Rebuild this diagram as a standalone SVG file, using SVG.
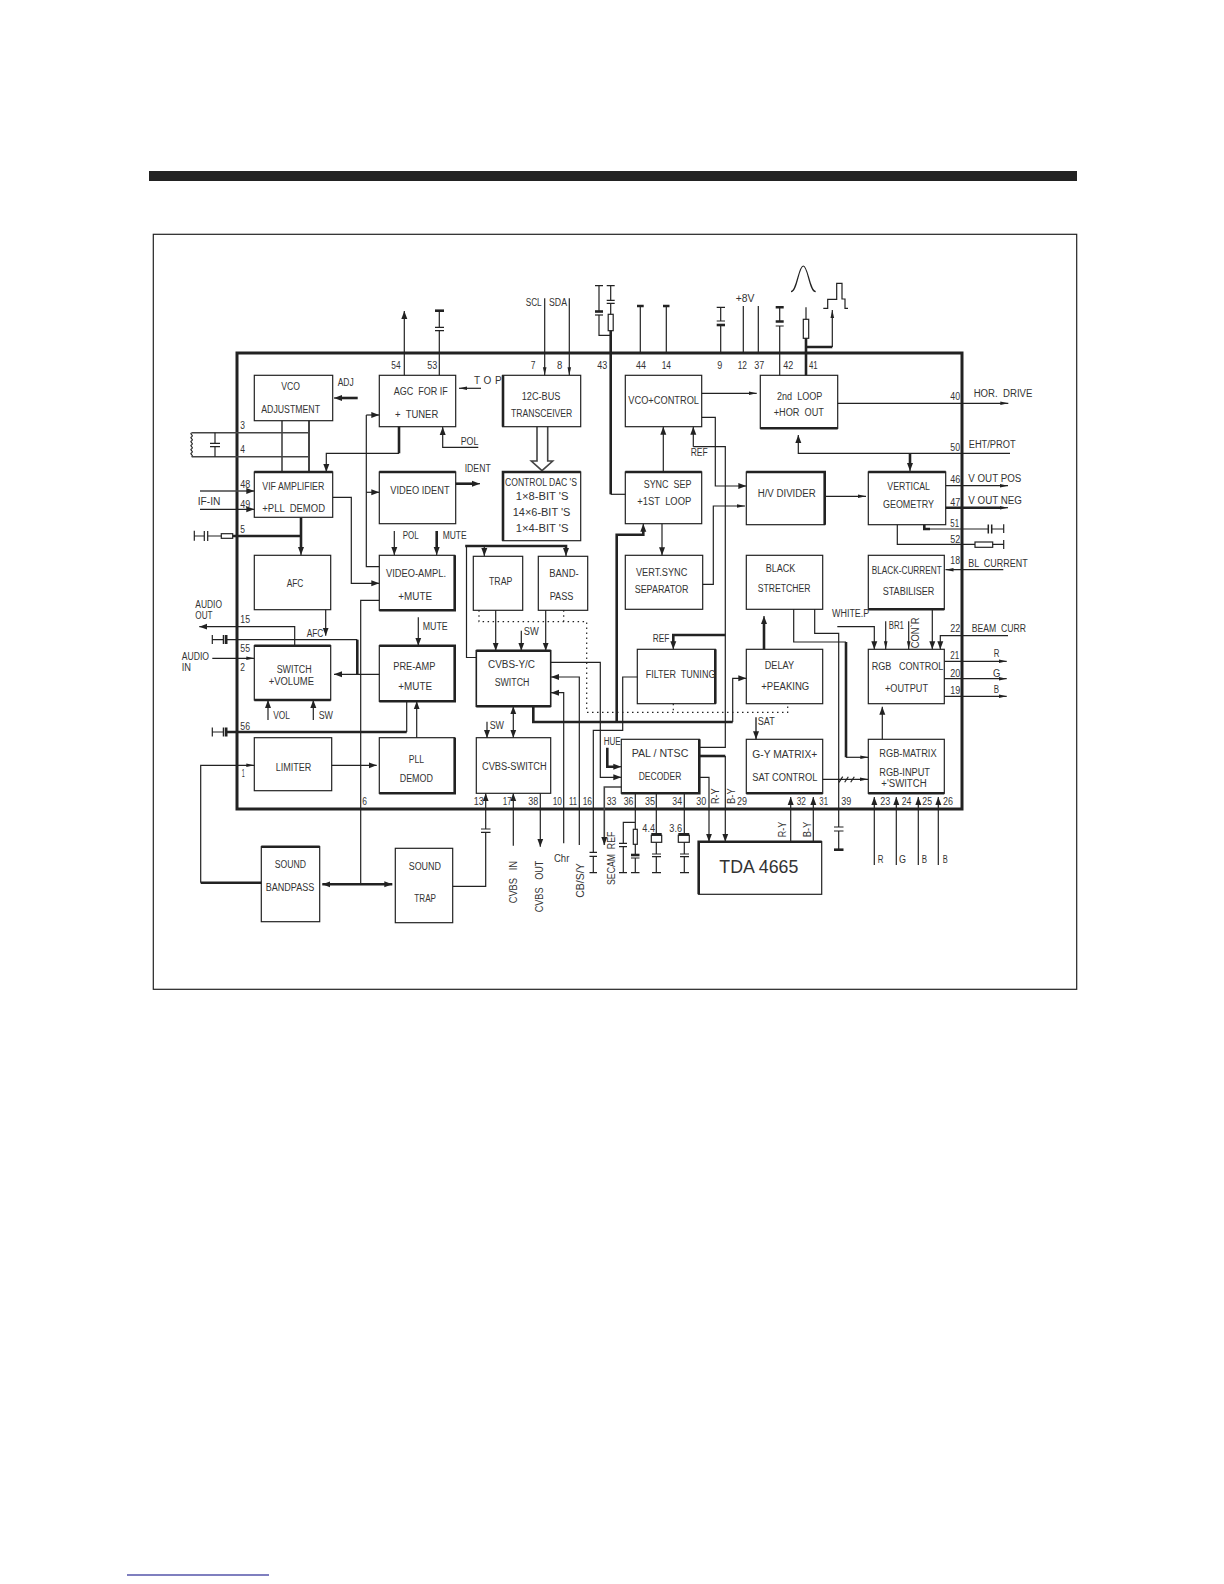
<svg xmlns="http://www.w3.org/2000/svg" width="1224" height="1584" viewBox="0 0 1224 1584">
<style>
rect,path,polyline{fill:none;stroke:#222;stroke-width:1.2}
.T{stroke-width:2.6}
.g{stroke:#444;stroke-width:1.6}
.d{stroke-dasharray:1.5 3.5;stroke-width:1.2}
.r{marker-end:url(#a)}
.R{marker-end:url(#A)}
.b{marker-start:url(#A2);marker-end:url(#A)}
text{font-family:"Liberation Sans",Arial,sans-serif;font-size:10px;fill:#333;white-space:pre}
</style>
<defs>
<marker id="a" markerUnits="userSpaceOnUse" markerWidth="9" markerHeight="6" refX="8" refY="3" orient="auto"><path d="M0,1.2 L8,3 L0,4.8 Z" style="fill:#222;stroke:none"/></marker>
<marker id="A" markerUnits="userSpaceOnUse" markerWidth="9" markerHeight="8" refX="8" refY="4" orient="auto"><path d="M0,1 L8,4 L0,7 Z" style="fill:#222;stroke:none"/></marker>
<marker id="A2" markerUnits="userSpaceOnUse" markerWidth="9" markerHeight="8" refX="8" refY="4" orient="auto-start-reverse"><path d="M0,1 L8,4 L0,7 Z" style="fill:#222;stroke:none"/></marker>
</defs>
<rect width="1224" height="1584" style="fill:#fff;stroke:none"/>
<rect x="149" y="171" width="928" height="10" style="fill:#222;stroke:none"/>
<rect x="153.3" y="234.3" width="923.4" height="755" style="stroke-width:1.2"/>
<rect x="237" y="353" width="725" height="456" style="stroke-width:3"/>
<path d="M127,1575H269" style="stroke:#000080;stroke-width:1.2"/>

<g id="connectors">
<path class="R" d="M404.3,375.3V311"/>
<path d="M439.3,375.3V330.7M435,330.7H444M435,327.3H444M439.3,327.3V310.7"/><path class="T" d="M435,310.7H444"/>
<path class="r" d="M544.7,298.3V375.3"/><path class="r" d="M569.3,298.3V375.3"/>
<path d="M599,285.7V311M595,285.7H603M599,315V335.3H610.7"/><path class="T" d="M595,311.5H603"/><path d="M595,315H603"/>
<path d="M610.7,285.7V300.3M606.7,285.7H614.7M606.7,300.3H614.7M606.7,303.3H614.7M610.7,303.3V314.3"/>
<rect x="608.2" y="314.3" width="5" height="16.4"/>
<path class="T" d="M610.7,330.7V494.3"/><path d="M610.7,494.3H625.3"/>
<path d="M640.3,353V306M666.3,353V306"/><path class="T" d="M637,306H643.7M663,306H669.5"/>
<path d="M720.7,353V325M716.7,307.3H725M720.7,307.3V321M716.7,321H725"/><path class="T" d="M716.7,325H725"/>
<path d="M743.3,353V306M758.3,353V306"/>
<path d="M779.7,375.3V326M775.7,326H783.7M779.7,321V307.3"/><path class="T" d="M775.7,321.5H783.7M775.7,307.3H783.7"/>
<path class="T" d="M806,375.3V338.3M806,347H832.3"/><path class="r" d="M832.3,347V310"/>
<rect x="803.3" y="319.3" width="5.4" height="19"/><path d="M806,319.3V307.3"/>
<path d="M791,291.7C797,291.7 798.5,266 803.3,266C808,266 809.5,291.7 815.7,291.7"/>
<path d="M823.3,308.3H827.7V299.3H836.7V283.3H842V299H845V308.3H848"/>
<path class="T" d="M357.7,398H342"/><path class="R" d="M345,398H334"/>
<path class="r" d="M481,388.3H459"/>
<path class="R" d="M478.3,447.3H442.7V427"/>
<path d="M191.7,432.7 C189,434 194,435 191.7,436.7 C189,438 194,439 191.7,440.7 C189,442 194,443 191.7,444.7 C189,446 194,447 191.7,448.7 C189,450 194,451 191.7,452.7 C189,454 194,455 191.7,456.7"/>
<path class="g" d="M191.7,432.7H309M191.7,456.7H309M282,420.7V472"/><path class="g" style="stroke-width:2" d="M309,420.7V472"/>
<path d="M215,432.7V443.3M210,443.3H220M210,446.7H220M215,446.7V456.7"/>
<path class="T" d="M399,426.7V453.3"/><path class="R" d="M399,453.3H326.3V472"/>
<path d="M379.3,566.7H366.3V415"/><path class="R" d="M366.3,415H379.3"/><path class="R" d="M366.3,492.3H379.3"/>
<path class="R" d="M332.7,497.3H351.3V583.3H379.3"/>
<path class="T" d="M455.7,483.7H473"/><path class="R" d="M470,483.7H480"/>
<path class="g R" d="M200,491H254.3"/><path class="R" d="M200,509.3H254.3"/>
<path d="M194.3,530.7V540.7M194.3,536H204.3M204.3,531V541M207.7,531V541M207.7,536H221.3"/>
<rect x="221.3" y="533.7" width="11.4" height="4.6"/>
<path class="T" d="M232.7,536H301M301,517.3V548"/><path class="R" d="M301,545V555"/>
<path class="R" d="M394.3,531V555"/><path class="T" d="M436.7,531V548"/><path class="R" d="M436.7,545V555"/>
<path class="g" style="fill:#fff" d="M537,426.7V461H531.3L542,470.7L552.7,461H547.7V426.7"/>
<path class="T" d="M465.2,546H566V549"/><path class="R" d="M566,547V556"/><path class="R" d="M484.3,546V556"/>
<path d="M466.5,546V657.5H476.3"/>
<path class="d" d="M479,610.3V621.7H586.7V712.3H787.7V703.7M563.7,610.3V621.7M673.3,703.7V712.3"/>
<path class="R" d="M495.7,610.3V650.7"/><path class="R" d="M545.7,610.3V650.7"/><path class="R" d="M521.3,630.7V650.7"/>
<path class="R" d="M550.7,662.3H600.3V777.3H621.3"/>
<path class="R" d="M579.3,845V677H551"/><path class="R" d="M563.7,843.3V692.7H551"/>
<path class="T" d="M533.3,706.3V722H732.7"/><path class="R" d="M732.7,722V678.3H746.3"/>
<path class="T" d="M616.7,722V534.7H643.3V528"/><path class="R" d="M643.3,530V523.7"/>
<path d="M637.3,677H622.7V730.3H593.3V852.3M589.5,852.3H597M589.5,856.3H597M593.3,856.3V872.7M589.5,872.7H597"/>
<path class="T" d="M607.3,747.7V766.7H616"/><path class="R" d="M612,766.7H621.3"/>
<path class="g R" d="M621.3,787H604.3V845"/>
<path d="M699.3,747.3H725.3V446.7H693.3"/><path class="R" d="M693.3,446.7V426.7"/>
<path class="T" d="M725.3,635H673.3V642"/><path class="R" d="M673.3,640V649.3"/>
<path class="T" d="M699.3,756H725.3"/><path class="R" d="M725.3,756V841.7"/>
<path class="R" d="M699.3,777.3H709V841.7"/>
<path d="M635.3,793.3V829.3M635.3,844.3V855M635.3,858V872.7M631,872.7H639.5M635.3,822.3H623.3V843.3M619,843.3H627M619,846.7H627M623.3,846.7V872.7M619,872.7H627M631,858H639.5"/>
<rect x="633.3" y="829.3" width="4" height="15"/><path class="T" d="M631,855H639.5"/>
<path d="M656.3,793.3V834.3M656.3,842.3V854M652,854H661M652,856.7H661M656.3,856.7V872.7M652,872.7H661"/>
<rect x="651.3" y="835.3" width="10.4" height="7"/><path class="T" d="M651.3,834.3H661.7"/>
<path d="M684.3,793.3V834.3M684.3,842.3V854M680,854H689M680,856.7H689M684.3,856.7V872.7M680,872.7H689"/>
<rect x="678.3" y="835.3" width="11" height="7"/><path class="T" d="M678.3,834.3H689.3"/>
<path class="R" d="M790.7,841.7V797"/><path class="R" d="M813.3,841.7V797"/>
<path d="M814.7,609.3V633.3H838.7V827M834,827H843.5M834,831H843.5M838.7,831V849.7"/><path class="T" d="M834,849.7H843.5"/>
<path d="M793.7,609.3V642H846"/><path class="T" d="M846,642V757.3"/><path class="r" d="M846,757.3H868.3"/>
<path class="R" d="M837.3,626.7H874.3V649.3"/>
<path class="r" d="M885.7,621.3V649.3"/><path class="r" d="M908.7,621.3V649.3"/><path class="R" d="M932.3,609.3V649.3"/>
<path class="R" d="M1008,635.7H940.3V649.3"/>
<path class="r" d="M944.3,661.3H1006.7"/><path class="r" d="M944.3,678.7H1006.7"/><path class="r" d="M944.3,696.3H1006.7"/>
<path class="R" d="M882.3,739.3V706.7"/>
<path class="R" d="M874.3,865V797"/><path class="R" d="M896.3,865V797"/><path class="R" d="M918.3,865V797"/><path class="R" d="M938.3,865V797"/>
<path class="g R" d="M756,717.3V739.3"/>
<path class="T" d="M764,649.3V622"/><path class="R" d="M764,625V616"/>
<path class="r" d="M822.7,779.3H868"/><path d="M839,782.3L842.7,776.7M844.7,782.3L848.3,776.7M850.7,782.3L854.3,776.7"/>
<path class="r" d="M701.7,393.3H756.7"/>
<path class="R" d="M701.7,417.3H715.3V486H746.3"/>
<path class="r" d="M702.7,584.3H713.3V506H745"/>
<path class="r" d="M824.7,496.3H866"/>
<path class="R" d="M663.3,472V426.7"/><path class="R" d="M662,523.7V555.3"/>
<path class="r" d="M837.7,403.3H1008.3"/>
<path class="R" d="M1010,453.3H798.3V435"/>
<path class="T" d="M910,453.3V464"/><path class="R" d="M910,461V471"/>
<path class="r" d="M945.7,485.7H1008"/>
<path class="T" d="M945.7,507.7H1000"/><path class="r" d="M998,507.7H1008"/>
<path class="T" d="M924.3,524.7V529H930"/><path d="M930,529H988.3M991.7,529H1003.7"/><path class="T" d="M988.3,524.5V533.5M991.7,524.5V533.5" style="stroke-width:1.5"/><path d="M1003.7,524.3V533"/>
<path d="M897.3,524.7V544.3H975M992.7,544.3H1003.7M1003.7,540V549"/>
<rect x="975" y="542" width="17.7" height="5.3"/>
<path class="r" d="M1003.3,569.7H945.5"/>
<path class="R" d="M325.7,609.7V635.7"/>
<path class="R" d="M294.7,645.7V626.7H199.3"/>
<path d="M212.3,635V644M212.3,639.7H223"/><path class="T" d="M223.5,635V644" style="stroke-width:1.5"/><path class="T" d="M226.2,635V644"/>
<path d="M226.2,639.7H357.3"/><path class="T" d="M357.3,639.7V674.3"/>
<path class="R" d="M379.3,674.3H334"/>
<path class="r" d="M212.3,658.3H254.3"/>
<path class="R" d="M268,720V700"/><path class="R" d="M313.3,720V700"/>
<path d="M212.3,727.5V736.5M212.3,732H223"/><path class="T" d="M223.5,727.5V736.5" style="stroke-width:1.5"/><path class="T" d="M226.2,727.5V736.5M226.2,732H406.7"/>
<path d="M406.7,732V701.3"/>
<path class="R" d="M416.7,737.7V701.3"/>
<path class="R" d="M418.3,617.3V645.7"/>
<path class="R" d="M331.7,765.3H376.7"/>
<path class="T" d="M261.3,882.7H200.7"/><path class="r" d="M200.7,882.7V765.3H254.3"/>
<path d="M379.3,600.3H360.7V884.3"/>
<path class="T b" d="M322.3,884.3H392.3"/>
<path class="R" d="M452.7,886.3H485.7V832.3M481,832.3H490.5M481,829H490.5M485.7,829V793.3"/>
<path class="R" d="M513.3,845.7V793.3"/><path class="R" d="M540.3,793.3V846.7"/>
<path class="R" d="M487,721.7V738"/>
<path class="b" d="M513.3,706.3V737.7"/>
</g>

<g id="vco-adjustment"><rect x="254.3" y="375.3" width="78.4" height="45.4"/><text x="281.3" y="390" textLength="18.7" lengthAdjust="spacingAndGlyphs">VCO</text><text x="261.3" y="413" textLength="58.7" lengthAdjust="spacingAndGlyphs">ADJUSTMENT</text></g>
<g id="agc"><rect x="379.3" y="375.3" width="76.4" height="51.4"/><text x="393.7" y="395" textLength="54" lengthAdjust="spacingAndGlyphs">AGC  FOR IF</text><text x="395" y="418" textLength="43.3" lengthAdjust="spacingAndGlyphs">+  TUNER</text></g>
<g id="i2c"><rect x="502.7" y="375.3" width="78" height="51.4"/><path class="T" d="M503,375.3V426.7"/><text x="521.7" y="400" textLength="38.7" lengthAdjust="spacingAndGlyphs">12C-BUS</text><text x="511" y="417" textLength="61.3" lengthAdjust="spacingAndGlyphs">TRANSCEIVER</text></g>
<g id="vif"><rect x="254.3" y="472" width="78.4" height="45.3"/><path class="T" d="M254.3,472H332.7"/><text x="262.3" y="489.7" textLength="62" lengthAdjust="spacingAndGlyphs">VIF AMPLIFIER</text><text x="262.3" y="511.7" textLength="62.7" lengthAdjust="spacingAndGlyphs">+PLL  DEMOD</text></g>
<g id="video-ident"><rect x="379.3" y="472" width="76.4" height="51.7"/><path class="T" d="M379.3,472H455.7"/><text x="390.3" y="494" textLength="59.3" lengthAdjust="spacingAndGlyphs">VIDEO IDENT</text></g>
<g id="control-dac"><rect x="502.7" y="472" width="78" height="68.7"/><path class="T" d="M503,540.7V472H580.7"/><text x="505" y="486" textLength="72" lengthAdjust="spacingAndGlyphs">CONTROL DAC 'S</text><text x="515.7" y="500" textLength="52.7" lengthAdjust="spacingAndGlyphs">1×8-BIT 'S</text><text x="512.7" y="516" textLength="57.7" lengthAdjust="spacingAndGlyphs">14×6-BIT 'S</text><text x="515.7" y="531.7" textLength="52.7" lengthAdjust="spacingAndGlyphs">1×4-BIT 'S</text></g>
<g id="afc"><rect x="254.3" y="555.3" width="76.4" height="54.4"/><text x="286.7" y="586.7" textLength="16.7" lengthAdjust="spacingAndGlyphs">AFC</text></g>
<g id="video-ampl"><rect x="379.3" y="555.3" width="75.4" height="55"/><path class="T" d="M454.7,555.3V610.3H379.3"/><text x="386" y="576.7" textLength="60" lengthAdjust="spacingAndGlyphs">VIDEO-AMPL.</text><text x="398.3" y="599.7" textLength="33.7" lengthAdjust="spacingAndGlyphs">+MUTE</text></g>
<g id="trap"><rect x="473.3" y="556.3" width="49.4" height="54"/><text x="489" y="585.3" textLength="23.3" lengthAdjust="spacingAndGlyphs">TRAP</text></g>
<g id="band-pass"><rect x="538.3" y="556.3" width="49.4" height="54"/><text x="549.3" y="576.7" textLength="29.3" lengthAdjust="spacingAndGlyphs">BAND-</text><text x="549.7" y="599.7" textLength="23.7" lengthAdjust="spacingAndGlyphs">PASS</text></g>
<g id="switch-volume"><rect x="254.3" y="645.7" width="76.4" height="54.3"/><path class="T" d="M254.3,645.7H330.7M254.3,700H330.7"/><text x="276.7" y="673.3" textLength="35" lengthAdjust="spacingAndGlyphs">SWITCH</text><text x="268.7" y="685" textLength="45.3" lengthAdjust="spacingAndGlyphs">+VOLUME</text></g>
<g id="pre-amp"><rect x="379.3" y="645.7" width="75.4" height="55.6"/><path class="T" d="M379.3,645.7H454.7V701.3H379.3"/><text x="393.3" y="670" textLength="42" lengthAdjust="spacingAndGlyphs">PRE-AMP</text><text x="398.3" y="690.3" textLength="33.7" lengthAdjust="spacingAndGlyphs">+MUTE</text></g>
<g id="cvbs-yc"><rect x="476.3" y="650.7" width="74.4" height="55.6" style="stroke-width:1.6"/><path class="T" d="M476.3,650.7H550.7M476.3,706.3H550.7"/><text x="488" y="668" textLength="47" lengthAdjust="spacingAndGlyphs">CVBS-Y/C</text><text x="494.7" y="685.7" textLength="34.7" lengthAdjust="spacingAndGlyphs">SWITCH</text></g>
<g id="limiter"><rect x="254.3" y="737.7" width="77.4" height="53"/><text x="275.7" y="771" textLength="35.7" lengthAdjust="spacingAndGlyphs">LIMITER</text></g>
<g id="pll-demod"><rect x="379.3" y="737.7" width="75.4" height="55.6"/><path class="T" d="M454.7,737.7V793.3H379.3"/><text x="408.7" y="763.3" textLength="15.3" lengthAdjust="spacingAndGlyphs">PLL</text><text x="399.7" y="781.7" textLength="33.3" lengthAdjust="spacingAndGlyphs">DEMOD</text></g>
<g id="cvbs-switch"><rect x="476.3" y="737.7" width="74.4" height="55.6"/><text x="482" y="770" textLength="64.7" lengthAdjust="spacingAndGlyphs">CVBS-SWITCH</text></g>
<g id="sound-bandpass"><rect x="261.3" y="846.7" width="58.4" height="75"/><path class="T" d="M261.3,846.7H319.7"/><text x="274.7" y="867.7" textLength="31.3" lengthAdjust="spacingAndGlyphs">SOUND</text><text x="265.7" y="890.7" textLength="48.7" lengthAdjust="spacingAndGlyphs">BANDPASS</text></g>
<g id="sound-trap"><rect x="395.3" y="848.3" width="57.4" height="74.4"/><text x="408.7" y="870.3" textLength="32.3" lengthAdjust="spacingAndGlyphs">SOUND</text><text x="414.3" y="901.7" textLength="21.7" lengthAdjust="spacingAndGlyphs">TRAP</text></g>
<g id="vco-control"><rect x="625.3" y="375.3" width="76.4" height="51.4"/><text x="628.3" y="404" textLength="70.7" lengthAdjust="spacingAndGlyphs">VCO+CONTROL</text></g>
<g id="second-loop"><rect x="760.3" y="375.3" width="77.4" height="53"/><path class="T" d="M760.3,428.3H837.7"/><text x="777" y="400" textLength="45.3" lengthAdjust="spacingAndGlyphs">2nd  LOOP</text><text x="773.7" y="416" textLength="50.3" lengthAdjust="spacingAndGlyphs">+HOR  OUT</text></g>
<g id="sync-sep"><rect x="625.3" y="472" width="76.4" height="51.7"/><path class="T" d="M625.3,472H701.7"/><text x="643.7" y="488" textLength="47.7" lengthAdjust="spacingAndGlyphs">SYNC  SEP</text><text x="637.3" y="505" textLength="54" lengthAdjust="spacingAndGlyphs">+1ST  LOOP</text></g>
<g id="hv-divider"><rect x="746.3" y="472" width="78.4" height="52.7"/><path class="T" d="M746.3,472H824.7V524.7"/><text x="757.7" y="497" textLength="58" lengthAdjust="spacingAndGlyphs">H/V DIVIDER</text></g>
<g id="vertical-geometry"><rect x="868.3" y="472" width="77.4" height="52.7"/><path class="T" d="M868.3,472H945.7"/><text x="887.3" y="490" textLength="42.7" lengthAdjust="spacingAndGlyphs">VERTICAL</text><text x="883" y="507.7" textLength="51" lengthAdjust="spacingAndGlyphs">GEOMETRY</text></g>
<g id="vert-sync"><rect x="625.3" y="555.3" width="77.4" height="54"/><text x="636" y="575.7" textLength="51.3" lengthAdjust="spacingAndGlyphs">VERT.SYNC</text><text x="634.7" y="592.7" textLength="53.7" lengthAdjust="spacingAndGlyphs">SEPARATOR</text></g>
<g id="black-stretcher"><rect x="746.3" y="555.3" width="76.4" height="54"/><text x="765.7" y="572.3" textLength="29.7" lengthAdjust="spacingAndGlyphs">BLACK</text><text x="757.7" y="592" textLength="52.7" lengthAdjust="spacingAndGlyphs">STRETCHER</text></g>
<g id="black-current"><rect x="868.3" y="555.3" width="76" height="54"/><path class="T" d="M868.3,609.3H944.3"/><text x="871.7" y="574.3" textLength="70" lengthAdjust="spacingAndGlyphs">BLACK-CURRENT</text><text x="882.7" y="594.7" textLength="51.7" lengthAdjust="spacingAndGlyphs">STABILISER</text></g>
<g id="filter-tuning"><rect x="637.3" y="649.3" width="78" height="54.4"/><path class="T" d="M715.3,649.3V703.7"/><text x="645.7" y="677.7" textLength="69.7" lengthAdjust="spacingAndGlyphs">FILTER  TUNING</text></g>
<g id="delay"><rect x="746.3" y="649.3" width="76.4" height="54.4"/><text x="764.7" y="668.7" textLength="29.3" lengthAdjust="spacingAndGlyphs">DELAY</text><text x="761.3" y="689.7" textLength="48" lengthAdjust="spacingAndGlyphs">+PEAKING</text></g>
<g id="rgb-control"><rect x="868.3" y="649.3" width="76" height="54.4"/><text x="871.7" y="670" textLength="71.7" lengthAdjust="spacingAndGlyphs">RGB   CONTROL</text><text x="885" y="692.3" textLength="43" lengthAdjust="spacingAndGlyphs">+OUTPUT</text></g>
<g id="pal-ntsc"><rect x="621.3" y="739.3" width="78" height="54"/><path class="T" d="M699.3,739.3V793.3H621.3"/><text x="631.7" y="756.7" textLength="56.7" lengthAdjust="spacingAndGlyphs">PAL / NTSC</text><text x="638.7" y="779.7" textLength="42.7" lengthAdjust="spacingAndGlyphs">DECODER</text></g>
<g id="gy-matrix"><rect x="746.3" y="739.3" width="76.4" height="54"/><path class="T" d="M746.3,793.3H822.7"/><text x="752.3" y="757.7" textLength="65" lengthAdjust="spacingAndGlyphs">G-Y MATRIX+</text><text x="752.3" y="780.7" textLength="65" lengthAdjust="spacingAndGlyphs">SAT CONTROL</text></g>
<g id="rgb-matrix"><rect x="868.3" y="739.3" width="76" height="54"/><path class="T" d="M868.3,793.3H944.3"/><text x="879.3" y="756.7" textLength="57.3" lengthAdjust="spacingAndGlyphs">RGB-MATRIX</text><text x="879.3" y="775.7" textLength="50.7" lengthAdjust="spacingAndGlyphs">RGB-INPUT</text><text x="881.3" y="787.3" textLength="45.3" lengthAdjust="spacingAndGlyphs">+'SWITCH</text></g>
<g id="tda4665"><rect x="698.7" y="841.7" width="123" height="52.6"/><path class="T" d="M698.7,894.3V841.7H821.7"/><text x="719.3" y="872.7" textLength="79" lengthAdjust="spacingAndGlyphs" style="font-size:18px">TDA 4665</text></g>

<g id="labels">
<text x="337.7" y="386" textLength="16" lengthAdjust="spacingAndGlyphs">ADJ</text>
<text x="391.3" y="369" textLength="9.3" lengthAdjust="spacingAndGlyphs">54</text><text x="427.3" y="369" textLength="10" lengthAdjust="spacingAndGlyphs">53</text><text x="530.7" y="369" textLength="4.7" lengthAdjust="spacingAndGlyphs">7</text><text x="557" y="369" textLength="5.3" lengthAdjust="spacingAndGlyphs">8</text><text x="597.3" y="369" textLength="10" lengthAdjust="spacingAndGlyphs">43</text><text x="636" y="369" textLength="10" lengthAdjust="spacingAndGlyphs">44</text><text x="661.7" y="369" textLength="9.3" lengthAdjust="spacingAndGlyphs">14</text><text x="717.3" y="369" textLength="5" lengthAdjust="spacingAndGlyphs">9</text><text x="737.7" y="369" textLength="9.3" lengthAdjust="spacingAndGlyphs">12</text><text x="754.3" y="369" textLength="10" lengthAdjust="spacingAndGlyphs">37</text><text x="783.3" y="369" textLength="10" lengthAdjust="spacingAndGlyphs">42</text><text x="809" y="369" textLength="8.7" lengthAdjust="spacingAndGlyphs">41</text>
<text x="474" y="383.7" textLength="27.7" lengthAdjust="spacing">T O P</text>
<text x="525.7" y="306" textLength="16" lengthAdjust="spacingAndGlyphs">SCL</text><text x="549" y="306" textLength="18" lengthAdjust="spacingAndGlyphs">SDA</text>
<text x="240.3" y="429" textLength="4.7" lengthAdjust="spacingAndGlyphs">3</text><text x="240.3" y="453" textLength="4.7" lengthAdjust="spacingAndGlyphs">4</text>
<text x="460.7" y="445" textLength="17.7" lengthAdjust="spacingAndGlyphs">POL</text><text x="464.7" y="471.7" textLength="26" lengthAdjust="spacingAndGlyphs">IDENT</text>
<text x="240.3" y="488.3" textLength="10" lengthAdjust="spacingAndGlyphs">48</text><text x="240.3" y="507.7" textLength="10" lengthAdjust="spacingAndGlyphs">49</text>
<text x="197.7" y="505" textLength="22.7" lengthAdjust="spacingAndGlyphs">IF-IN</text><text x="240.3" y="533.3" textLength="4.7" lengthAdjust="spacingAndGlyphs">5</text>
<text x="402.7" y="538.7" textLength="16" lengthAdjust="spacingAndGlyphs">POL</text><text x="442.7" y="538.7" textLength="24" lengthAdjust="spacingAndGlyphs">MUTE</text>
<text x="735.7" y="301.7" textLength="18.7" lengthAdjust="spacingAndGlyphs">+8V</text>
<text x="973.7" y="396.7" textLength="58.7" lengthAdjust="spacingAndGlyphs">HOR.  DRIVE</text><text x="950.3" y="400" textLength="9.7" lengthAdjust="spacingAndGlyphs">40</text>
<text x="690.7" y="456" textLength="17" lengthAdjust="spacingAndGlyphs">REF</text><text x="950.3" y="451.3" textLength="9.7" lengthAdjust="spacingAndGlyphs">50</text><text x="968.7" y="448" textLength="47" lengthAdjust="spacingAndGlyphs">EHT/PROT</text>
<text x="950.3" y="483.3" textLength="10" lengthAdjust="spacingAndGlyphs">46</text><text x="968.3" y="481.7" textLength="53" lengthAdjust="spacingAndGlyphs">V OUT POS</text><text x="950.3" y="505.7" textLength="10" lengthAdjust="spacingAndGlyphs">47</text><text x="968.3" y="504" textLength="53.7" lengthAdjust="spacingAndGlyphs">V OUT NEG</text>
<text x="950.3" y="526.7" textLength="8.7" lengthAdjust="spacingAndGlyphs">51</text><text x="950.3" y="542.7" textLength="10" lengthAdjust="spacingAndGlyphs">52</text><text x="950.3" y="564.3" textLength="9.7" lengthAdjust="spacingAndGlyphs">18</text><text x="968.3" y="566.7" textLength="59.3" lengthAdjust="spacingAndGlyphs">BL  CURRENT</text>
<text x="195.3" y="607.7" textLength="26.7" lengthAdjust="spacingAndGlyphs">AUDIO</text><text x="195.3" y="618.7" textLength="17.3" lengthAdjust="spacingAndGlyphs">OUT</text>
<text x="240.3" y="622.7" textLength="9.7" lengthAdjust="spacingAndGlyphs">15</text><text x="306.7" y="636.7" textLength="16.7" lengthAdjust="spacingAndGlyphs">AFC</text><text x="422.7" y="629.7" textLength="25" lengthAdjust="spacingAndGlyphs">MUTE</text><text x="523.7" y="635.3" textLength="15" lengthAdjust="spacingAndGlyphs">SW</text>
<text x="240.3" y="651.7" textLength="9.7" lengthAdjust="spacingAndGlyphs">55</text><text x="181.7" y="659.7" textLength="27.3" lengthAdjust="spacingAndGlyphs">AUDIO</text><text x="181.7" y="670.7" textLength="9.3" lengthAdjust="spacingAndGlyphs">IN</text><text x="240.3" y="671" textLength="4.7" lengthAdjust="spacingAndGlyphs">2</text>
<text x="273.3" y="718.7" textLength="16.7" lengthAdjust="spacingAndGlyphs">VOL</text><text x="318.7" y="718.7" textLength="14.3" lengthAdjust="spacingAndGlyphs">SW</text><text x="240.3" y="729.7" textLength="9.7" lengthAdjust="spacingAndGlyphs">56</text><text x="489.7" y="728.7" textLength="14.3" lengthAdjust="spacingAndGlyphs">SW</text><text x="241.7" y="777.3" textLength="3" lengthAdjust="spacingAndGlyphs">1</text>
<text x="362.3" y="805" textLength="4.7" lengthAdjust="spacingAndGlyphs">6</text><text x="473.7" y="805" textLength="10" lengthAdjust="spacingAndGlyphs">13</text><text x="502.7" y="805" textLength="9" lengthAdjust="spacingAndGlyphs">17</text><text x="528.3" y="805" textLength="10" lengthAdjust="spacingAndGlyphs">38</text><text x="552.7" y="805" textLength="9.3" lengthAdjust="spacingAndGlyphs">10</text><text x="569" y="805" textLength="8" lengthAdjust="spacingAndGlyphs">11</text><text x="582.7" y="805" textLength="9.3" lengthAdjust="spacingAndGlyphs">16</text><text x="606.7" y="805" textLength="9.7" lengthAdjust="spacingAndGlyphs">33</text><text x="623.7" y="805" textLength="9.7" lengthAdjust="spacingAndGlyphs">36</text><text x="645" y="805" textLength="10" lengthAdjust="spacingAndGlyphs">35</text><text x="672.3" y="805" textLength="9.7" lengthAdjust="spacingAndGlyphs">34</text><text x="696.3" y="805" textLength="10" lengthAdjust="spacingAndGlyphs">30</text><text x="737" y="805" textLength="10" lengthAdjust="spacingAndGlyphs">29</text><text x="796.7" y="805" textLength="9.3" lengthAdjust="spacingAndGlyphs">32</text><text x="819.3" y="805" textLength="8.7" lengthAdjust="spacingAndGlyphs">31</text><text x="841.3" y="805" textLength="10" lengthAdjust="spacingAndGlyphs">39</text><text x="880.3" y="805" textLength="10" lengthAdjust="spacingAndGlyphs">23</text><text x="901.7" y="805" textLength="9.7" lengthAdjust="spacingAndGlyphs">24</text><text x="922.3" y="805" textLength="9.7" lengthAdjust="spacingAndGlyphs">25</text><text x="943" y="805" textLength="10" lengthAdjust="spacingAndGlyphs">26</text>
<text transform="translate(719.3,804) rotate(-90)" textLength="15.7" lengthAdjust="spacingAndGlyphs">R-Y</text><text transform="translate(735,804) rotate(-90)" textLength="15.7" lengthAdjust="spacingAndGlyphs">B-Y</text>
<text transform="translate(517,903.3) rotate(-90)" textLength="42.3" lengthAdjust="spacingAndGlyphs">CVBS   IN</text><text transform="translate(543,912.3) rotate(-90)" textLength="51.7" lengthAdjust="spacingAndGlyphs">CVBS   OUT</text>
<text x="554" y="862.3" textLength="15.3" lengthAdjust="spacingAndGlyphs">Chr</text>
<text transform="translate(583.7,897.7) rotate(-90)" textLength="34.4" lengthAdjust="spacingAndGlyphs">CB/S/Y</text><text transform="translate(615,885) rotate(-90)" textLength="53.3" lengthAdjust="spacingAndGlyphs">SECAM  REF</text>
<text transform="translate(786.3,837.3) rotate(-90)" textLength="15.6" lengthAdjust="spacingAndGlyphs">R-Y</text><text transform="translate(811.3,837.3) rotate(-90)" textLength="15.6" lengthAdjust="spacingAndGlyphs">B-Y</text>
<text x="642.3" y="832" textLength="12.7" lengthAdjust="spacingAndGlyphs">4.4</text><text x="669.3" y="831.7" textLength="12.7" lengthAdjust="spacingAndGlyphs">3.6</text>
<text x="877.7" y="863.3" textLength="5.7" lengthAdjust="spacingAndGlyphs">R</text><text x="899" y="863.3" textLength="7" lengthAdjust="spacingAndGlyphs">G</text><text x="921.7" y="863.3" textLength="5.3" lengthAdjust="spacingAndGlyphs">B</text><text x="942.7" y="863.3" textLength="5" lengthAdjust="spacingAndGlyphs">B</text>
<text x="832" y="616.7" textLength="37.3" lengthAdjust="spacingAndGlyphs">WHITE.P</text><text x="888.7" y="628.7" textLength="15.3" lengthAdjust="spacingAndGlyphs">BR1</text>
<text transform="translate(919.3,648.3) rotate(-90)" textLength="30.7" lengthAdjust="spacingAndGlyphs">CON`R</text>
<text x="950.3" y="632" textLength="10" lengthAdjust="spacingAndGlyphs">22</text><text x="971.7" y="632" textLength="54.3" lengthAdjust="spacingAndGlyphs">BEAM  CURR</text>
<text x="950.3" y="659.3" textLength="9" lengthAdjust="spacingAndGlyphs">21</text><text x="993.7" y="656.7" textLength="5.7" lengthAdjust="spacingAndGlyphs">R</text><text x="950.3" y="676.7" textLength="10" lengthAdjust="spacingAndGlyphs">20</text><text x="993" y="677" textLength="7.3" lengthAdjust="spacingAndGlyphs">G</text><text x="950.3" y="693.7" textLength="10" lengthAdjust="spacingAndGlyphs">19</text><text x="993.7" y="692.7" textLength="5.3" lengthAdjust="spacingAndGlyphs">B</text>
<text x="652.7" y="642" textLength="16.7" lengthAdjust="spacingAndGlyphs">REF</text><text x="757.7" y="724.7" textLength="17" lengthAdjust="spacingAndGlyphs">SAT</text><text x="603.7" y="745" textLength="17" lengthAdjust="spacingAndGlyphs">HUE</text>
</g>
</svg>
